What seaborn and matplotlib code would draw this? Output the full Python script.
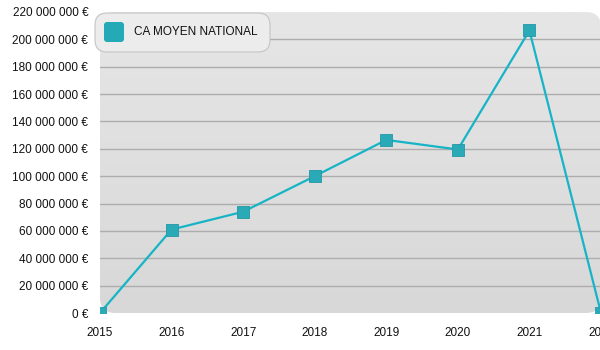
import matplotlib
matplotlib.use("Agg")
import matplotlib.pyplot as plt
import seaborn as sns
import numpy as np
import pandas as pd
from matplotlib.patches import FancyBboxPatch
from matplotlib.ticker import FuncFormatter, MultipleLocator

years = [2015, 2016, 2017, 2018, 2019, 2020, 2021, 2022]
values = [0, 61_000_000, 74_000_000, 100_000_000, 126_500_000, 119_500_000, 206_500_000, 0]
series_name = "CA MOYEN NATIONAL"

df = pd.DataFrame({"year": years, "value": values})

sns.set_theme(style="white")
plt.rcParams["font.family"] = ["Liberation Sans", "DejaVu Sans"]

fig = plt.figure(figsize=(6, 3.5), dpi=100)
ax = fig.add_axes([100/600, 37/350, 501/600, 301/350])
ax.set_xlim(2015, 2022)
ax.set_ylim(0, 220_000_000)
for s in ax.spines.values():
    s.set_visible(False)
ax.patch.set_alpha(0)

# rounded gradient background
bg = FancyBboxPatch((0, 0), 1, 1, boxstyle="round,pad=0,rounding_size=0.03",
                    transform=ax.transAxes, facecolor="none", edgecolor="none",
                    mutation_aspect=501/301)
ax.add_patch(bg)
grad = np.linspace(0, 1, 256).reshape(-1, 1)
im = ax.imshow(grad, extent=[2015, 2022, 0, 220_000_000], aspect="auto",
               cmap=matplotlib.colors.LinearSegmentedColormap.from_list("g", ["#d8d8d8", "#e6e6e6"]),
               origin="lower", zorder=0)
im.set_clip_path(bg)

# embossed gridlines
yt = np.arange(20_000_000, 220_000_000, 20_000_000)
for y in yt:
    ax.axhline(y, color="#adadad", lw=1.0, zorder=1)
    l = ax.axhline(y, color="#f7f7f7", lw=1.0, zorder=1)
    l.set_transform(ax.transData + matplotlib.transforms.ScaledTranslation(0, -1/100, fig.dpi_scale_trans))

sns.lineplot(data=df, x="year", y="value", ax=ax, color="#16b4c6", lw=1.6, zorder=3, legend=False)
ax.scatter(df["year"], df["value"], marker="s", s=72, color="#2aa9b6",
           edgecolor="#2299a6", linewidth=0.6, zorder=4)

ax.xaxis.set_major_locator(MultipleLocator(1))
ax.yaxis.set_major_locator(MultipleLocator(20_000_000))
ax.yaxis.set_major_formatter(FuncFormatter(lambda v, p: f"{int(v):,}".replace(",", " ") + " €"))
ax.xaxis.set_major_formatter(FuncFormatter(lambda v, p: f"{int(v)}"))
ax.tick_params(axis="both", labelsize=8.5, colors="#111111", length=0)
ax.tick_params(axis="y", pad=8.5)
ax.tick_params(axis="x", pad=10)
ax.set_xlabel("")
ax.set_ylabel("")

# legend box
leg_bg = FancyBboxPatch((95/600, 298/350), 175/600, 39/350,
                        boxstyle="round,pad=0,rounding_size=0.02",
                        transform=fig.transFigure, facecolor="#ececec",
                        edgecolor="#c4c4c4", lw=0.8, zorder=5, mutation_aspect=600/350)
fig.patches.append(leg_bg)
fig.patches.append(FancyBboxPatch((104/600, 308/350), 20/600, 20/350,
                                  boxstyle="round,pad=0,rounding_size=0.005",
                                  transform=fig.transFigure, facecolor="#24a9b6",
                                  edgecolor="none", zorder=6, mutation_aspect=600/350))
fig.text(134/600, 318/350, series_name, fontsize=8.5, va="center", ha="left", color="#111111", zorder=7)

fig.savefig("out.png", dpi=100)
